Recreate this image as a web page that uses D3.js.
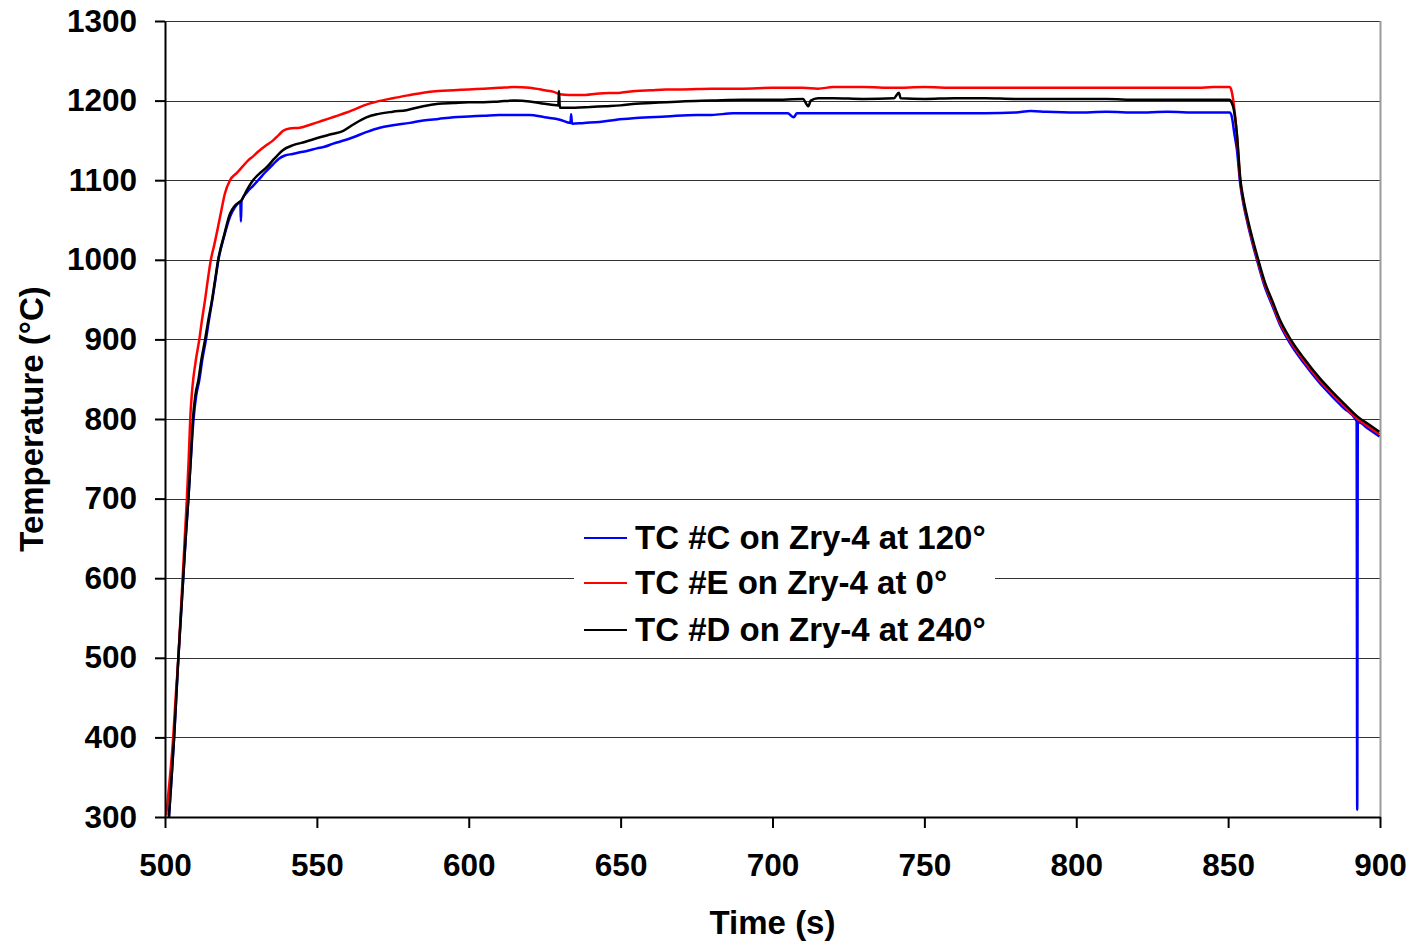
<!DOCTYPE html>
<html>
<head>
<meta charset="utf-8">
<script src="https://cdn.jsdelivr.net/npm/d3@7"></script>
<style>
  html, body { margin: 0; padding: 0; background: #fff; }
  svg text { font-family: "Liberation Sans", Arial, Helvetica, sans-serif; font-weight: bold; fill: #000; }
</style>
</head>
<body>
<svg id="chart" width="1414" height="945"></svg>
<script>
// ---------- data ----------
const xTicks = [500, 550, 600, 650, 700, 750, 800, 850, 900];
const yTicks = [300, 400, 500, 600, 700, 800, 900, 1000, 1100, 1200, 1300];
const seriesNames = ["TC #C on Zry-4 at 120°", "TC #E on Zry-4 at 0°", "TC #D on Zry-4 at 240°"];
const seriesColors = ["#0000ff", "#ff0000", "#000000"];

// TC #C (blue) [time s, temperature °C]
const tcC = [
  [501.3,300],[502,340],[503,400],[503.7,450],[504.4,500],[505.2,550],[506,600],[506.8,650],[507.7,700],
  [508.5,750],[509.4,800],[510.3,830],[511.3,849],[512.3,875],[513.5,900],[514.5,925],[515.6,950],
  [516.6,975],[517.6,1000],[519.5,1030],[521.5,1055],[523,1066],[524.8,1073],[525,1048],[525.2,1074],
  [527,1085],[529,1093],[530.7,1100],[533,1110],[535.6,1120],[537.5,1127],[539.5,1131],[542,1133],[544.4,1135],
  [547,1137],[550,1140],[552.5,1142],[555.4,1146],[558,1149],[562,1154],[566,1160],[570.7,1166],[575,1169],
  [580.6,1172],[585,1175],[590,1177],[595,1179],[600,1180],[605,1181],[610,1182],[615,1182],[620,1182],
  [625,1179],[630,1176],[633.5,1172],[633.7,1183],[634,1171],[638,1172],[643,1173],[648.6,1176],[655,1178],
  [665,1180],[675,1182],[680,1182],[687,1184],[695,1184],[705,1184],[707,1179],[708,1184],[720,1184],
  [730,1184],[740,1184],[750,1184],[760,1184],[770,1184],[780,1185],[785,1187],[790,1186],[800,1185],
  [810,1186],[820,1185],[830,1186],[840,1185],[850.5,1185],
  [851.2,1180],[852,1160],[852.9,1138],[854,1095],[855,1071],[856.4,1046],[858,1021],[859.7,997],
  [862,967],[864.6,942],[867,919],[870.1,897],[875,870],[880,846],[884,829.5],[888,814],
  [892.3,797.5],[892.5,309],[892.7,796.5],[896,788],[899.8,778]
];

// TC #E (red)
const tcE = [
  [500.4,302],[501.5,345],[502.7,400],[503.5,450],[504.4,500],[505.1,550],[505.8,600],[506.5,650],
  [507.2,700],[507.8,750],[508.3,800],[508.8,830],[509.3,850],[510.2,875],[511.3,900],[512.2,925],
  [513.2,950],[514.1,975],[515.1,1000],[516.3,1020],[517.5,1042],[518.6,1063],[519.7,1083],[521.4,1100],
  [523.6,1109],[525.5,1117],[527.4,1125],[529,1130],[530.7,1136],[533,1143],[535.6,1150],[537.5,1157],
  [538.9,1162],[541,1165],[544.4,1166],[548,1170],[552,1175],[556,1180],[559.8,1185],[563,1190],
  [566.3,1195],[570,1199],[575,1203],[580.6,1207],[585,1210],[590,1212],[595,1213],[600,1214],[605,1215],
  [610,1216],[615,1217],[620,1216],[625,1213],[628,1211],[630,1208],[633,1207],[637,1207],[643,1209],
  [650,1210],[655,1212],[660,1213],[665,1214],[670,1214],[680,1215],[690,1215],[700,1216],[710,1216],
  [715,1215],[720,1217],[730,1217],[740,1216],[750,1217],[760,1216],[770,1216],[780,1216],[790,1216],
  [800,1216],[810,1216],[820,1216],[830,1216],[840,1216],[845,1217],[850.5,1217],
  [851,1214],[851.8,1197],[852.9,1155],[854,1099],[855,1074],[856.4,1049],[858,1024],[859.7,1000],
  [862,970],[864.6,945],[867,922],[870.1,900],[875,873],[880,849],[884,832.5],[888,817],[892.6,800],
  [896,791],[899.8,781]
];

// TC #D (black)
const tcD = [
  [501.3,300],[502,340],[503,400],[503.7,450],[504.4,500],[505.2,550],[506,600],[506.8,650],[507.7,700],
  [508.5,750],[509.2,800],[510,830],[511,849],[512,875],[513.2,900],[514.3,925],[515.5,950],[516.5,975],
  [517.5,1000],[519.4,1030],[521.4,1058],[523,1068],[525.2,1075],[527,1088],[529,1100],[531,1108],
  [533.4,1116],[536,1127],[538.9,1138],[542.2,1144],[546,1148],[551,1154],[555,1158],[558.7,1162],
  [562,1170],[566.3,1179],[570,1183],[575,1186],[579.5,1188],[585,1193],[590,1196],[595,1197],[600,1198],
  [605,1198],[610,1199],[615,1200],[620,1199],[625,1196],[629.5,1194],[629.7,1212],[630,1191],[635,1191],
  [640,1192],[645,1193],[650,1194],[655,1196],[660,1197],[665,1198],[670,1199],[680,1200],[690,1201],
  [700,1201],[710,1202],[711.8,1193],[712.6,1200],[715,1203],[720,1203],[730,1202],[740,1203],
  [741.6,1210],[742.2,1203],[750,1202],[760,1203],[770,1203],[780,1202],[790,1202],[800,1202],[810,1202],
  [820,1201],[830,1201],[840,1201],[850.5,1201],
  [851.1,1198],[851.8,1190],[852.9,1158],[854,1102],[855,1077],[856.4,1052],[858,1027],[859.7,1003],
  [862,973],[864.6,948],[867,925],[870.1,903],[875,876],[880,852],[884,835.5],[888,820],[892.6,803],
  [896,794],[899.8,784]
];

// ---------- layout ----------
const svg = d3.select("#chart");
const L = 165, R = 1380, T = 21, B = 817;
const x = d3.scaleLinear().domain([500, 900]).range([L, R]);
const y = d3.scaleLinear().domain([300, 1300]).range([B, T]);

// gridlines
svg.append("g").selectAll("line").data(yTicks.filter(d => d > 300)).join("line")
  .attr("x1", L).attr("x2", R)
  .attr("y1", d => Math.round(y(d)) + 0.5).attr("y2", d => Math.round(y(d)) + 0.5)
  .attr("stroke", "#333").attr("stroke-width", 1);

// right border
svg.append("line").attr("x1", R + 0.5).attr("x2", R + 0.5).attr("y1", T).attr("y2", B)
  .attr("stroke", "#9a9a9a").attr("stroke-width", 2);

// legend background
const legendRows = [538, 583, 630];
svg.append("rect").attr("x", 574).attr("y", 515).attr("width", 421).attr("height", 136).attr("fill", "#fff");

// series
svg.append("clipPath").attr("id", "clip").append("rect")
  .attr("x", L).attr("y", T - 2).attr("width", R - L).attr("height", B - T + 2);
const line = d3.line().x(d => x(d[0])).y(d => y(d[1])).curve(d3.curveMonotoneX);
const allSeries = [tcC, tcE, tcD];
const gLines = svg.append("g").attr("clip-path", "url(#clip)");
allSeries.forEach((s, i) => {
  gLines.append("path").datum(s).attr("d", line)
    .attr("fill", "none").attr("stroke", seriesColors[i]).attr("stroke-width", 2.5)
    .attr("stroke-linejoin", "round");
});

// axes
const tickFont = 31.5;
const yAxis = d3.axisLeft(y).tickValues(yTicks).tickFormat(d3.format("d"))
  .tickSizeInner(10).tickSizeOuter(0).tickPadding(18);
const gy = svg.append("g").attr("transform", `translate(${L},0)`).call(yAxis);
gy.select(".domain").attr("stroke", "#000").attr("stroke-width", 2);
gy.selectAll(".tick line").attr("stroke", "#000").attr("stroke-width", 2);
gy.selectAll(".tick text").attr("font-size", tickFont).attr("font-family", null).attr("fill", "#000");

const xAxis = d3.axisBottom(x).tickValues(xTicks).tickFormat(d3.format("d"))
  .tickSizeInner(11).tickSizeOuter(0).tickPadding(26);
const gx = svg.append("g").attr("transform", `translate(0,${B})`).call(xAxis);
gx.select(".domain").attr("stroke", "#000").attr("stroke-width", 2);
gx.selectAll(".tick line").attr("stroke", "#000").attr("stroke-width", 2);
gx.selectAll(".tick text").attr("font-size", tickFont).attr("font-family", null).attr("fill", "#000");

// axis titles
svg.append("text").attr("x", (L + R) / 2).attr("y", 934).attr("text-anchor", "middle")
  .attr("font-size", 33).text("Time (s)");
svg.append("text").attr("transform", `translate(43,${(T + B) / 2}) rotate(-90)`)
  .attr("text-anchor", "middle").attr("font-size", 33).text("Temperature (°C)");

// legend
seriesNames.forEach((name, i) => {
  const ly = legendRows[i];
  svg.append("line").attr("x1", 584).attr("x2", 627).attr("y1", ly).attr("y2", ly)
    .attr("stroke", seriesColors[i]).attr("stroke-width", 2);
  svg.append("text").attr("x", 635).attr("y", ly + 11).attr("font-size", 33).text(name);
});
</script>
</body>
</html>
